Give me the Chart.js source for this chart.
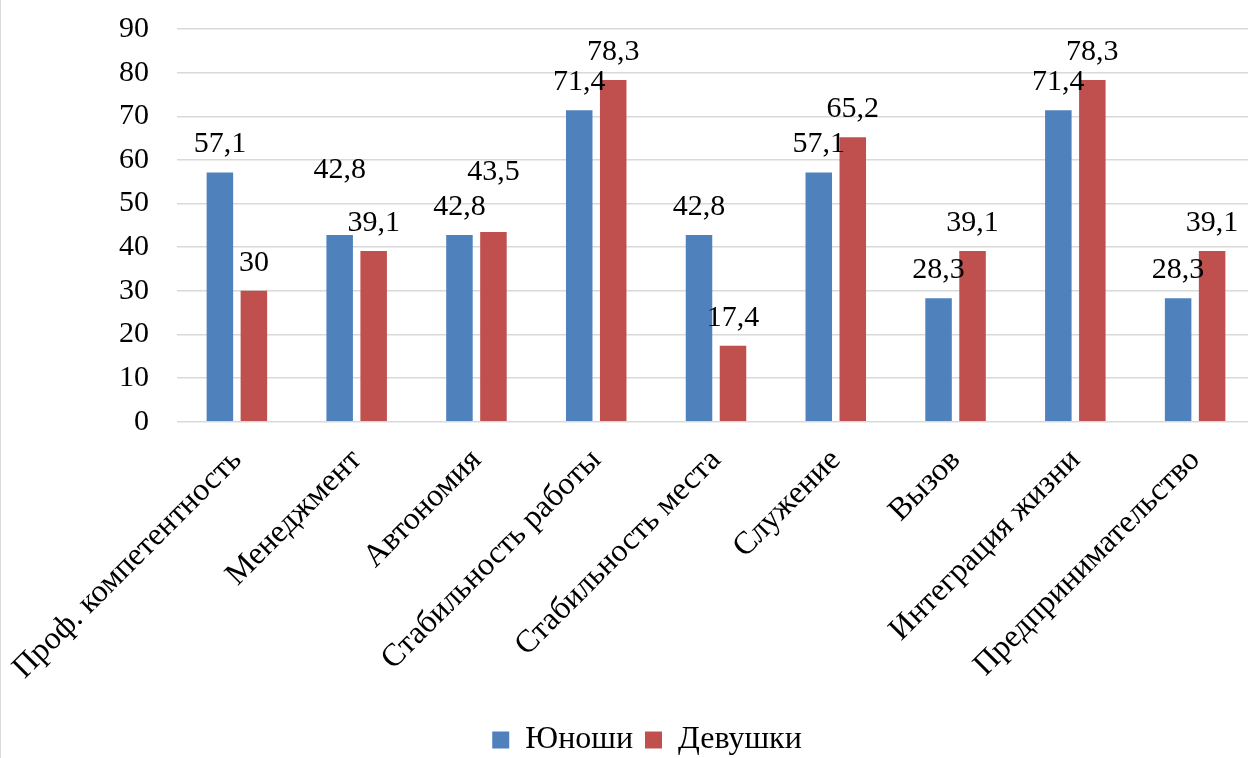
<!DOCTYPE html>
<html>
<head>
<meta charset="utf-8">
<script src="https://cdn.jsdelivr.net/npm/chart.js@4/dist/chart.umd.min.js"></script>
<style>
  html, body { margin: 0; padding: 0; background: #fff; overflow: hidden; width: 1248px; height: 758px; }
  #wrap { position: relative; width: 1248px; height: 758px; overflow: hidden; }
  #c { position: absolute; left: 0; top: 0; }
  #edge { position: absolute; left: 0; top: 0; width: 1px; height: 758px; background: #d9d9d9; }
</style>
</head>
<body>
<div id="wrap">
  <canvas id="c" width="1256" height="766"></canvas>
  <div id="edge"></div>
</div>
<script>
// Career anchors: share of respondents (%)
const categories = [
  'Проф. компетентность', 'Менеджмент', 'Автономия', 'Стабильность работы',
  'Стабильность места', 'Служение', 'Вызов', 'Интеграция жизни', 'Предпринимательство'
];
const seriesNames = ['Юноши', 'Девушки'];
const boysValues  = [57.1, 42.8, 42.8, 71.4, 42.8, 57.1, 28.3, 71.4, 28.3];
const girlsValues = [30, 39.1, 43.5, 78.3, 17.4, 65.2, 39.1, 78.3, 39.1];
const yTickValues = [0, 10, 20, 30, 40, 50, 60, 70, 80, 90];

// a couple of value labels are raised further to keep clear of neighbours (px)
const labelLift = [
  [0, 37, 0, 0, 0, 0, 0, 0, 0],
  [0, 0, 32, 0, 0, 0, 0, 0, 0]
];

const FONT = '"Liberation Serif", "Times New Roman", serif';
const NUM_SIZE = 30;
const TEXT_SIZE = 32;
const CLEAR = 'rgba(0,0,0,0)';

const valueLabels = {
  id: 'valueLabels',
  afterDatasetsDraw(chart) {
    const ctx = chart.ctx;
    ctx.save();
    ctx.font = NUM_SIZE + 'px ' + FONT;
    ctx.fillStyle = '#000';
    ctx.textAlign = 'center';
    ctx.textBaseline = 'middle';
    chart.data.datasets.forEach((ds, i) => {
      chart.getDatasetMeta(i).data.forEach((bar, j) => {
        const txt = String(ds.data[j]).replace('.', ',');
        ctx.fillText(txt, bar.x, bar.y - 28 - labelLift[i][j]);
      });
    });
    ctx.restore();
  }
};

new Chart(document.getElementById('c'), {
  type: 'bar',
  data: {
    labels: categories,
    datasets: [
      { label: seriesNames[0], data: boysValues, backgroundColor: '#4f81bd', borderWidth: 0 },
      { label: seriesNames[1], data: girlsValues, backgroundColor: '#c0504d', borderWidth: 0 }
    ]
  },
  options: {
    responsive: false,
    animation: false,
    devicePixelRatio: 1,
    layout: { padding: { top: 29, left: 39, right: 1, bottom: 0 } },
    datasets: { bar: { barPercentage: 0.78, categoryPercentage: 0.5676 } },
    plugins: {
      tooltip: { enabled: false },
      legend: {
        position: 'bottom',
        labels: {
          boxWidth: 17, boxHeight: 17, padding: 12,
          color: '#000',
          font: { family: FONT, size: TEXT_SIZE }
        }
      }
    },
    scales: {
      x: {
        // invisible tick marks give the rotated labels their gap below the axis
        grid: { display: true, drawOnChartArea: false, drawTicks: true, tickLength: 20,
                color: CLEAR, tickColor: CLEAR },
        border: { display: false },
        ticks: {
          autoSkip: false, minRotation: 45, maxRotation: 45, padding: 0,
          color: '#000', font: { family: FONT, size: TEXT_SIZE }
        },
        afterFit(scale) { scale.height = 290.3; }
      },
      y: {
        min: 0, max: 90,
        afterBuildTicks(scale) { scale.ticks = yTickValues.map(v => ({ value: v })); },
        grid: { color: '#d9d9d9', lineWidth: 1.5, drawTicks: true, tickLength: 28, tickColor: CLEAR },
        border: { display: false },
        ticks: { padding: 0, color: '#000', font: { family: FONT, size: NUM_SIZE } },
        afterFit(scale) { scale.width = 138; }
      }
    }
  },
  plugins: [valueLabels]
});
</script>
</body>
</html>
